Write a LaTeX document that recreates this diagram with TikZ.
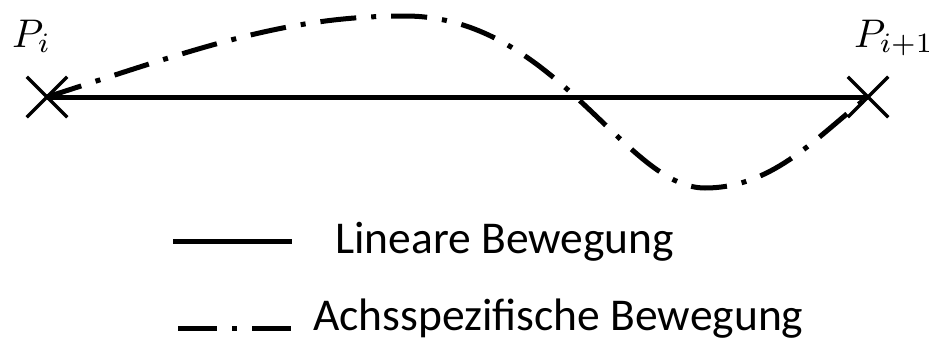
\documentclass[tikz,border=0pt]{standalone}
\usepackage{graphicx}
\usepackage{fontspec}
\setmainfont{Carlito}
\usetikzlibrary{shapes.misc}

\tikzset{
  endpoint/.style={cross out, draw, line width=3.5pt, inner sep=0pt, minimum size=37pt},
  linmove/.style={line width=5pt},
  axismove/.style={line width=5pt, dash pattern=on 36pt off 15pt on 5pt off 15pt},
  legendmove/.style={line width=5pt, dash pattern=on 39pt off 15pt on 5pt off 15pt},
  ptlabel/.style={anchor=base west, inner sep=0pt},
  legendtext/.style={anchor=base west, inner sep=0pt, font=\fontsize{45.5}{54}\selectfont},
}
\newcommand{\bigmath}[1]{\scalebox{4}{$#1$}}

\begin{document}
\begin{tikzpicture}[x=1pt, y=-1pt]
  \useasboundingbox (0,0) rectangle (932,340);

  % end points of the motion
  \node[endpoint] (A) at (47,97) {};
  \node[endpoint] (B) at (868,97) {};
  \node[ptlabel] (PA) at (12,47) {\bigmath{P_i}};
  \node[ptlabel] (PB) at (854,47) {\bigmath{P_{i+1}}};

  % turning points of the axis-specific path
  \coordinate (top) at (405,16);
  \coordinate (bot) at (705,188);

  % linear motion
  \draw[linmove] (A.center) -- (B.center);

  % axis-specific motion
  \draw[axismove] (A.center) .. controls (199,48) and (285,16) .. (top)
                  .. controls (555,16) and (625,188) .. (bot)
                  .. controls (775,188) and (820,133) .. (B.center);

  % legend
  \coordinate (l1s) at (173,241);
  \coordinate (l1e) at (292,241);
  \coordinate (l2s) at (178,328);
  \coordinate (l2e) at (292,328);
  \draw[linmove] (l1s) -- (l1e);
  \draw[legendmove] (l2s) -- (l2e);
  \node[legendtext] (t1) at (335,253) {Lineare Bewegung};
  \node[legendtext] (t2) at (313,330) {Achsspezifische Bewegung};
\end{tikzpicture}
\end{document}
